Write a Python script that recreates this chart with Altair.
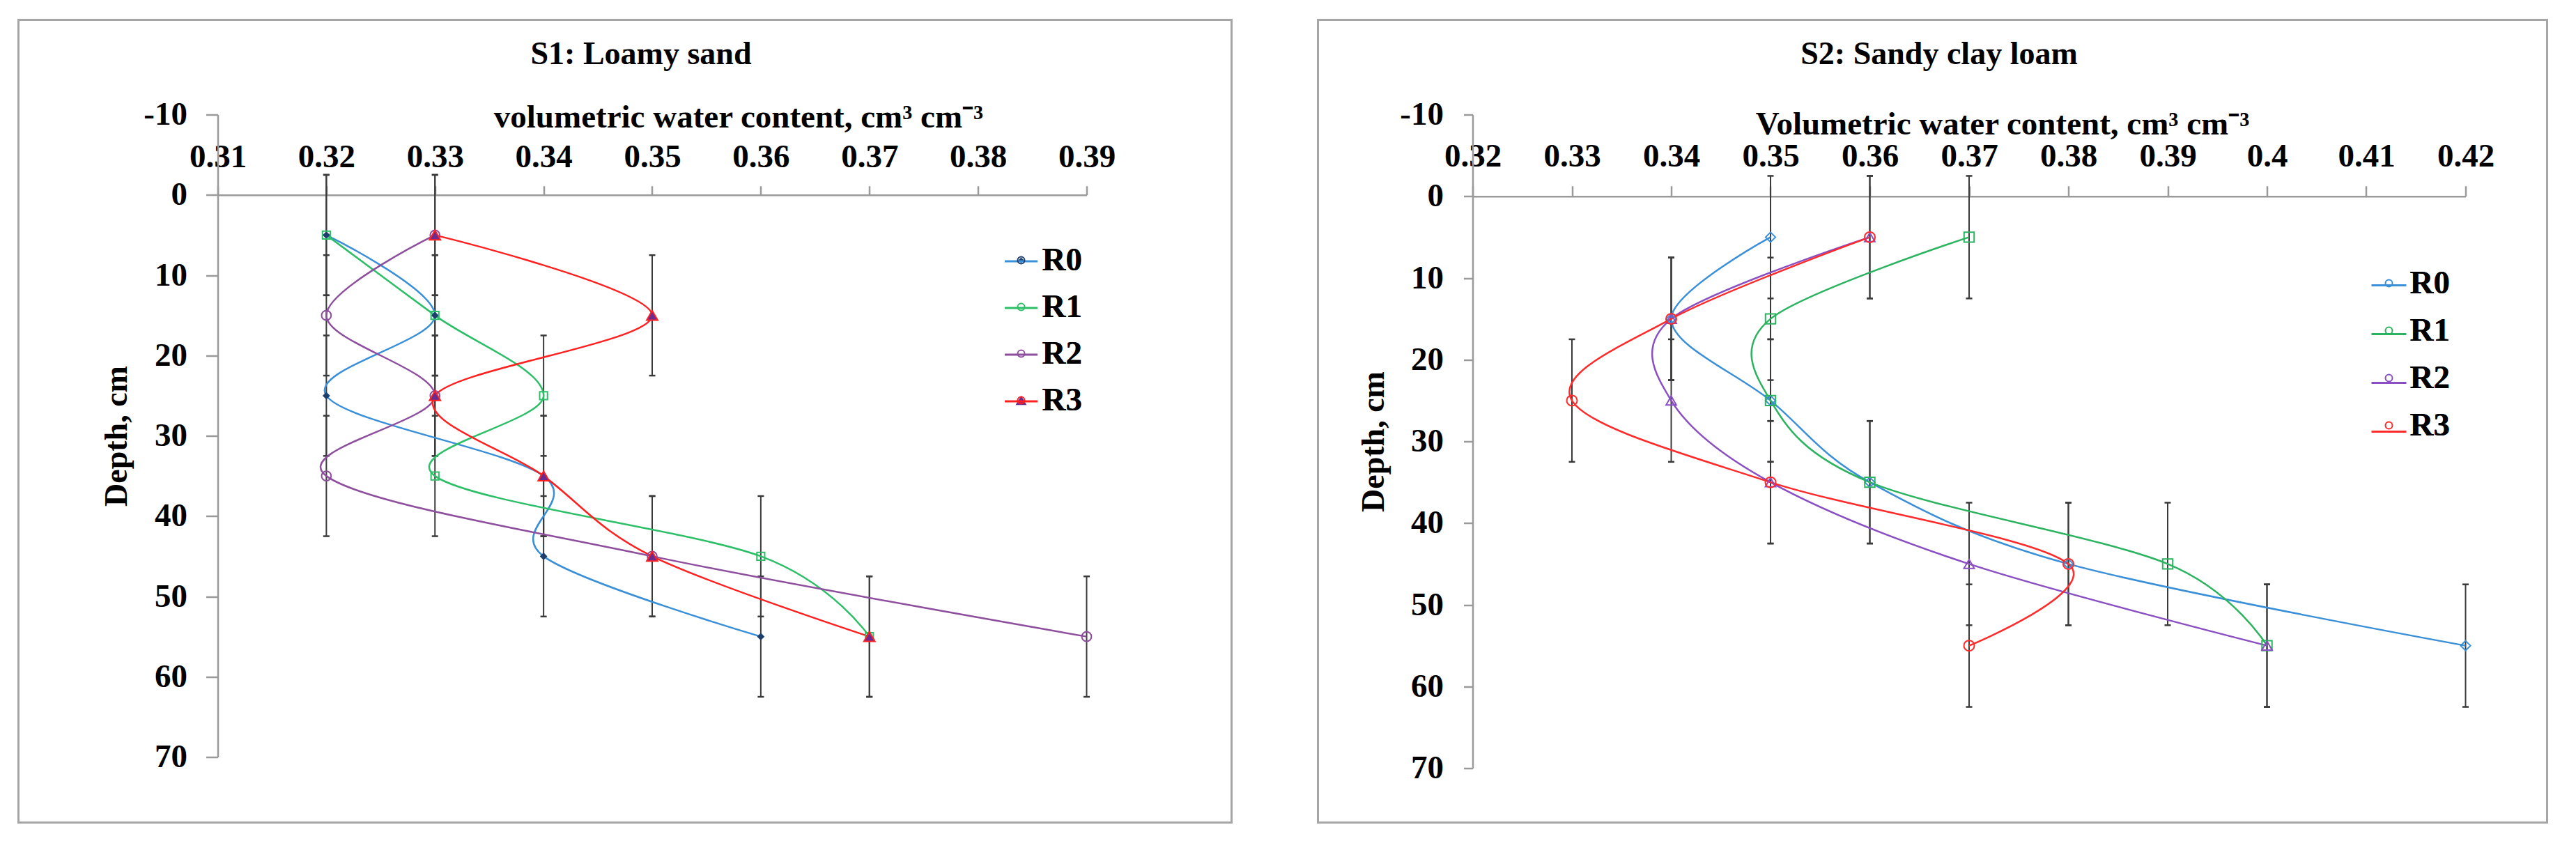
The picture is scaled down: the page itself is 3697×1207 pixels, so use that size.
import altair as alt
import pandas as pd

# ---------------- data ----------------
SERIES = ["R0", "R1", "R2", "R3"]
DEPTHS = [5, 15, 25, 35, 45, 55]

S1_R0 = [0.32, 0.33, 0.32, 0.34, 0.34, 0.36]
S1_R1 = [0.32, 0.33, 0.34, 0.33, 0.36, 0.37]
S1_R2 = [0.33, 0.32, 0.33, 0.32, 0.35, 0.39]
S1_R3 = [0.33, 0.35, 0.33, 0.34, 0.35, 0.37]

S2_R0 = [0.35, 0.34, 0.35, 0.36, 0.38, 0.42]
S2_R1 = [0.37, 0.35, 0.35, 0.36, 0.39, 0.40]
S2_R2 = [0.36, 0.34, 0.34, 0.35, 0.37, 0.40]
S2_R3 = [0.36, 0.34, 0.33, 0.35, 0.38, 0.37]

ERR_HALF = 7.5  # half length of the depth error bars (cm)

S1_XTICKS = [0.31, 0.32, 0.33, 0.34, 0.35, 0.36, 0.37, 0.38, 0.39]
S2_XTICKS = [0.32, 0.33, 0.34, 0.35, 0.36, 0.37, 0.38, 0.39, 0.40, 0.41, 0.42]
DEPTH_TICKS = [-10, 0, 10, 20, 30, 40, 50, 60, 70]
DEPTH_DOMAIN = [-10, 70]

FONT = "Liberation Serif"
AXIS_GREY = "#9a9a9a"
FRAME_GREY = "#a6a6a6"
ERR_COLOR = "#3a3a3a"
FS = 47  # main font size


def long_df(cols):
    rows = []
    for s, vals in zip(SERIES, cols):
        for d, v in zip(DEPTHS, vals):
            rows.append({"series": s, "depth": d, "vwc": v})
    return pd.DataFrame(rows)


PANELS = [
    dict(
        title="S1: Loamy sand", title_dx=-16,
        xtitle="volumetric water content, cm³ cm⁻³",
        cols=[S1_R0, S1_R1, S1_R2, S1_R3],
        xdomain=[0.31, 0.39], xticks=S1_XTICKS, xfmt=".2f",
        W=1247, H=922,
        frame=(286, 208, 136, 94),
        xt_tick=13, xt_pad=17, xtitle_x=747, xtitle_y=-111,
        yt_tick=17, yt_pad=27, ytitle_x=-145,
        line_colors=["#3a8fd9", "#2dbf67", "#8e4e9e", "#ff2020"],
        pt_colors=["#1d3f6e", "#2dbf67", "#8e4e9e", "#ff2020"],
        pt_fills=["#1d3f6e", "transparent", "transparent", "#6a2c91"],
        pt_shapes=["diamond", "square", "circle", "triangle-up"],
        pt_sizes=[64, 250, 230, 280],
        leg_cx=1153, leg_top=185.5, leg_len=47, leg_label_x=1183, leg_row=66,
    ),
    dict(
        title="S2: Sandy clay loam", title_dx=-43,
        xtitle="Volumetric water content, cm³ cm⁻³",
        cols=[S2_R0, S2_R1, S2_R2, S2_R3],
        xdomain=[0.32, 0.42], xticks=S2_XTICKS, xfmt=".2~f",
        W=1425, H=938,
        frame=(222, 117, 136, 78),
        xt_tick=15, xt_pad=18, xtitle_x=760, xtitle_y=-103,
        yt_tick=13, yt_pad=29, ytitle_x=-142,
        line_colors=["#3a8fd9", "#2bb35f", "#8a4fc2", "#ff2a2a"],
        pt_colors=["#3a8fd9", "#2bb35f", "#8a4fc2", "#ff2a2a"],
        pt_fills=["transparent", "transparent", "transparent", "transparent"],
        pt_shapes=["diamond", "square", "triangle-up", "circle"],
        pt_sizes=[200, 225, 250, 225],
        leg_cx=1315, leg_top=218.5, leg_len=50, leg_label_x=1345, leg_row=67,
    ),
]


def make_panel(p):
    W, H = p["W"], p["H"]
    df = long_df(p["cols"])
    px_per_cm = H / (DEPTH_DOMAIN[1] - DEPTH_DOMAIN[0])

    xscale = alt.Scale(domain=p["xdomain"], nice=False, zero=False)
    yscale = alt.Scale(domain=DEPTH_DOMAIN, reverse=True, nice=False, zero=False)

    xaxis = alt.Axis(
        orient="top", offset=-(0 - DEPTH_DOMAIN[0]) * px_per_cm,
        values=p["xticks"], format=p["xfmt"], grid=False,
        domainColor=AXIS_GREY, domainWidth=2.5,
        tickColor=AXIS_GREY, tickWidth=2.5, tickSize=p["xt_tick"],
        labelFont=FONT, labelFontSize=FS, labelFontWeight="bold", labelColor="black",
        labelPadding=p["xt_pad"], labelFlush=False, labelOverlap=False,
        title=p["xtitle"], titleFont=FONT, titleFontSize=FS, titleFontWeight="bold",
        titleColor="black", titleX=p["xtitle_x"], titleY=p["xtitle_y"],
        titleAlign="center", titleBaseline="middle",
    )
    yaxis = alt.Axis(
        orient="left", values=DEPTH_TICKS, format="d", grid=False,
        labelExpr="replace(datum.label, '\u2212', '-')",
        domainColor=AXIS_GREY, domainWidth=2.5,
        tickColor=AXIS_GREY, tickWidth=2.5, tickSize=p["yt_tick"],
        labelFont=FONT, labelFontSize=FS, labelFontWeight="bold", labelColor="black",
        labelPadding=p["yt_pad"], labelFlush=False, labelOverlap=False,
        title="Depth, cm", titleFont=FONT, titleFontSize=46, titleFontWeight="bold",
        titleColor="black", titleX=p["ytitle_x"], titleY=H / 2, titleAngle=270,
        titleAlign="center", titleBaseline="middle",
    )

    def X():
        return alt.X("vwc:Q", scale=xscale, axis=xaxis)

    def Y(f):
        return alt.Y(f"{f}:Q", scale=yscale, axis=yaxis)

    fl, fr, ft, fb = p["frame"]
    frame = alt.Chart(pd.DataFrame({"frame": [0]})).mark_rect(
        fill="transparent", stroke=FRAME_GREY, strokeWidth=3
    ).encode(
        x=alt.value(-fl), x2=alt.value(W + fr),
        y=alt.value(-ft), y2=alt.value(H + fb),
    )

    base = alt.Chart(df).transform_calculate(
        lo=f"datum.depth - {ERR_HALF}", hi=f"datum.depth + {ERR_HALF}"
    )
    bars = base.mark_rule(color=ERR_COLOR, strokeWidth=2).encode(
        x=X(), y=Y("lo"), y2="hi:Q"
    )
    cap_lo = base.mark_tick(orient="horizontal", size=9, thickness=2.5,
                            color=ERR_COLOR, opacity=1).encode(x=X(), y=Y("lo"))
    cap_hi = base.mark_tick(orient="horizontal", size=9, thickness=2.5,
                            color=ERR_COLOR, opacity=1).encode(x=X(), y=Y("hi"))

    row_pad = p["leg_row"] - FS
    line_w = int(-(-(p["leg_len"] + 3) // 1))
    line_off = max(line_w, FS)
    line_legend = alt.Legend(
        title=None, orient="none",
        legendX=p["leg_cx"] - line_off / 2, legendY=p["leg_top"], padding=0,
        symbolType="stroke", symbolSize=p["leg_len"] ** 2, symbolStrokeWidth=3,
        labelFont=FONT, labelFontSize=FS, labelFontWeight="bold", labelOpacity=0,
        labelExpr="' '", labelOffset=4, rowPadding=row_pad,
    )
    pt_lx = p["leg_cx"] - FS / 2
    point_legend = alt.Legend(
        title=None, orient="none", legendX=pt_lx, legendY=p["leg_top"], padding=0,
        symbolStrokeWidth=2, symbolFillColor="transparent",
        labelFont=FONT, labelFontSize=FS, labelFontWeight="bold", labelColor="black",
        labelOffset=p["leg_label_x"] - pt_lx - FS, rowPadding=row_pad,
    )

    lines = alt.Chart(df).mark_line(
        interpolate="cardinal", tension=0, strokeWidth=2.5
    ).encode(
        x=X(), y=Y("depth"), order=alt.Order("depth:Q"),
        color=alt.Color("series:N", scale=alt.Scale(domain=SERIES, range=p["line_colors"]),
                        legend=line_legend),
    )

    points = alt.Chart(df).mark_point(filled=False, strokeWidth=2, opacity=1).encode(
        x=X(), y=Y("depth"),
        color=alt.Color("series:N", scale=alt.Scale(domain=SERIES, range=p["pt_colors"]),
                        legend=point_legend),
        fill=alt.Fill("series:N", scale=alt.Scale(domain=SERIES, range=p["pt_fills"]),
                      legend=point_legend),
        shape=alt.Shape("series:N", scale=alt.Scale(domain=SERIES, range=p["pt_shapes"]),
                        legend=point_legend),
        size=alt.Size("series:N", scale=alt.Scale(domain=SERIES, range=p["pt_sizes"]),
                      legend=point_legend),
    )

    title = alt.TitleParams(
        text=p["title"], font=FONT, fontSize=46, fontWeight="bold", color="black",
        anchor="middle", frame="group", offset=-111, dx=p["title_dx"],
        baseline="alphabetic",
    )

    return alt.layer(frame, bars, cap_lo, cap_hi, lines, points).resolve_scale(
        color="independent"
    ).properties(width=W, height=H, title=title)


left = make_panel(PANELS[0])
right = make_panel(PANELS[1])

chart = alt.hconcat(left, right, spacing=120).resolve_scale(
    x="independent", y="independent", color="independent", fill="independent",
    shape="independent", size="independent",
).properties(
    padding={"left": 16.5, "top": 18.5, "right": 5, "bottom": 5},
    background="white",
).configure_view(stroke=None)

chart.save("out.html", embed_options={"renderer": "svg", "actions": False})
